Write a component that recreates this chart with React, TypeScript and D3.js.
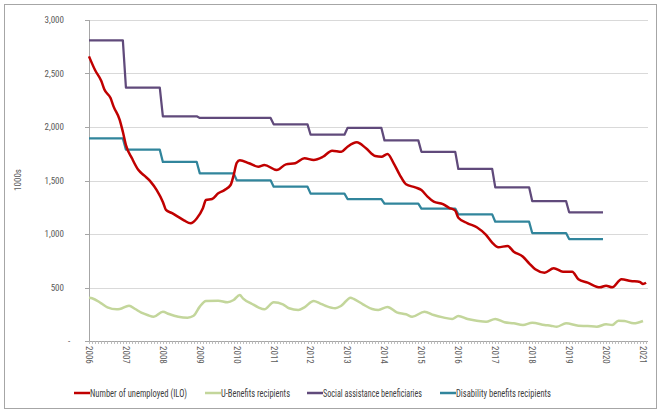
import React from "react";
import * as d3 from "d3";

// Number of unemployed (ILO), thousands – monthly readings
const unemployedDates = [
  "2006-01","2006-03","2006-05","2006-06","2006-08","2006-09","2006-11","2006-12",
  "2007-01","2007-03","2007-05","2007-07","2007-09","2007-11",
  "2008-01","2008-02","2008-04","2008-06","2008-08","2008-10","2008-12",
  "2009-02","2009-03","2009-05","2009-07","2009-09","2009-11","2009-12",
  "2010-01","2010-02","2010-05","2010-08","2010-10",
  "2011-02","2011-05","2011-08","2011-11",
  "2012-02","2012-05","2012-08","2012-11",
  "2013-01","2013-04","2013-07","2013-10","2013-12",
  "2014-02","2014-04","2014-06","2014-08","2014-11",
  "2015-01","2015-03","2015-05","2015-08","2015-10","2015-12",
  "2016-01","2016-04","2016-07","2016-10","2016-12",
  "2017-02","2017-05","2017-07","2017-10","2017-12",
  "2018-02","2018-05","2018-08","2018-11",
  "2019-02","2019-04","2019-07","2019-11",
  "2020-01","2020-03","2020-06","2020-09","2020-12",
  "2021-01","2021-02",
];
const unemployedValues = [
  2660, 2530, 2430, 2350, 2270, 2190, 2065, 1955,
  1830, 1705, 1600, 1545, 1490, 1410,
  1300, 1225, 1195, 1160, 1125, 1100, 1145,
  1240, 1318, 1327, 1380, 1410, 1458, 1550,
  1665, 1690, 1661, 1629, 1645,
  1598, 1651, 1661, 1707,
  1692, 1722, 1779, 1769,
  1816, 1857, 1801, 1729, 1722,
  1748, 1661, 1551, 1465, 1436,
  1411, 1349, 1302, 1280, 1245, 1218,
  1152, 1100, 1063, 991, 919,
  876, 888, 835, 788, 726,
  670, 639, 680, 648,
  648, 577, 545, 502,
  517, 502, 577, 561, 551,
  533, 545,
];

// U-Benefits recipients, thousands
const uBenefitDates = [
  "2006-01","2006-02","2006-05","2006-07","2006-10","2006-11",
  "2007-02","2007-04","2007-06","2007-08","2007-10",
  "2008-01","2008-03","2008-06","2008-09","2008-11",
  "2009-01","2009-03","2009-07","2009-10","2009-12",
  "2010-02","2010-03","2010-06","2010-08","2010-10",
  "2011-01","2011-04","2011-06","2011-09","2011-11",
  "2012-02","2012-04","2012-06","2012-09","2012-11",
  "2013-02","2013-03","2013-06","2013-09","2013-11",
  "2014-02","2014-05","2014-08","2014-10",
  "2015-02","2015-05","2015-08","2015-11",
  "2016-01","2016-04","2016-07","2016-10",
  "2017-01","2017-04","2017-07","2017-10",
  "2018-01","2018-05","2018-07","2018-09","2018-12",
  "2019-04","2019-07","2019-10",
  "2020-01","2020-03","2020-05","2020-07","2020-10",
  "2021-01",
];
const uBenefitValues = [
  405, 400, 352, 315, 296, 299,
  330, 299, 265, 243, 227,
  274, 252, 227, 218, 236,
  321, 374, 377, 362, 383,
  430, 399, 346, 315, 296,
  362, 343, 306, 290, 315,
  374, 352, 327, 306, 330,
  405, 393, 343, 299, 290,
  318, 268, 250, 227,
  274, 243, 221, 206,
  234, 206, 190, 180,
  206, 175, 165, 150,
  171, 150, 143, 134, 165,
  143, 140, 134,
  156, 150, 190, 187, 165,
  187,
];

// Annual figures, 2006–2019, shown month by month
const annualYears = [2006, 2007, 2008, 2009, 2010, 2011, 2012, 2013, 2014, 2015, 2016, 2017, 2018, 2019];
const socialAssistance = [2810, 2367, 2100, 2085, 2085, 2025, 1928, 1991, 1875, 1768, 1608, 1436, 1308, 1203];
const disabilityBenefits = [1894, 1788, 1673, 1567, 1502, 1442, 1377, 1327, 1283, 1237, 1184, 1115, 1009, 953];

const yearLabels = ["2006","2007","2008","2009","2010","2011","2012","2013","2014","2015","2016","2017","2018","2019","2020","2021"];
const yTicks = [0, 500, 1000, 1500, 2000, 2500, 3000];

const seriesNames = [
  "Number of unemployed (ILO)",
  "U-Benefits recipients",
  "Social assistance beneficiaries",
  "Disability benefits recipients",
];
const seriesColors = ["#c00000", "#c3d69b", "#604a7b", "#31859c"];

const FONT = "'Liberation Sans Narrow', 'Roboto Condensed', Roboto, sans-serif";

const monthIndex = (s: string) => {
  const [y, m] = s.split("-").map(Number);
  return (y - 2006) * 12 + (m - 1);
};

type Pt = { i: number; v: number };

export default function App() {
  const W = 661, H = 412;
  const x = d3.scaleLinear().domain([0, 180]).range([89, 643]);
  const y = d3.scaleLinear().domain([0, 3000]).range([341, 20]);
  const xEnd = 648;

  const stepLine = d3.line<Pt>().x((d) => x(d.i)).y((d) => y(d.v));
  const smoothLine = d3
    .line<Pt>()
    .x((d) => x(d.i))
    .y((d) => y(d.v))
    .curve(d3.curveMonotoneX);

  const red: Pt[] = unemployedDates.map((d, k) => ({ i: monthIndex(d), v: unemployedValues[k] }));
  const green: Pt[] = uBenefitDates.map((d, k) => ({ i: monthIndex(d), v: uBenefitValues[k] }));
  const expand = (vals: number[]): Pt[] =>
    annualYears.flatMap((yr, k) =>
      d3.range(12).map((m) => ({ i: (yr - 2006) * 12 + m, v: vals[k] }))
    );
  const purple = expand(socialAssistance);
  const teal = expand(disabilityBenefits);

  const monthTicks = d3.range(0, 182);
  const fmt = d3.format(",");

  // legend swatch positions and text widths
  const legendX = [74, 205, 307, 440];
  const legendTextW = [97, 69, 99, 95];
  const legendY = 393;

  return (
    <svg
      width={W}
      height={H}
      style={{ position: "absolute", left: 0, top: 0, background: "#fff" }}
    >
      <rect x={4.5} y={4.5} width={652} height={404} fill="#fff" stroke="#a6a6a6" strokeWidth={1} />

      {/* horizontal gridlines */}
      {yTicks.filter((t) => t > 0).map((t) => (
        <line key={t} x1={89} x2={xEnd} y1={Math.round(y(t)) + 0.5} y2={Math.round(y(t)) + 0.5} stroke="#d9d9d9" strokeWidth={1} />
      ))}

      {/* y axis */}
      <line x1={89.5} x2={89.5} y1={y(3000)} y2={y(0)} stroke="#a6a6a6" strokeWidth={1} />
      {yTicks.map((t) => (
        <g key={t}>
          <line x1={85} x2={89.5} y1={Math.round(y(t)) + 0.5} y2={Math.round(y(t)) + 0.5} stroke="#a6a6a6" />
          <text
            x={t === 0 ? 69 : 64}
            y={y(t)}
            dy="0.35em"
            textAnchor={t === 0 ? "middle" : "end"}
            fontFamily={FONT}
            fontSize={9}
            fill="#595959"
          >
            {t === 0 ? "-" : fmt(t)}
          </text>
        </g>
      ))}
      <text
        transform={`translate(21,180) rotate(-90)`}
        textAnchor="middle"
        fontFamily={FONT}
        fontSize={9}
        fill="#595959"
      >
        1000s
      </text>

      {/* x axis */}
      <line x1={89} x2={xEnd} y1={341.5} y2={341.5} stroke="#a6a6a6" />
      {monthTicks.map((i) => (
        <line key={i} x1={Math.round(x(i)) + 0.5} x2={Math.round(x(i)) + 0.5} y1={341.5} y2={344} stroke="#bfbfbf" />
      ))}
      {yearLabels.map((lab, k) => (
        <text
          key={lab}
          transform={`translate(${x(k * 12)},346) rotate(90)`}
          dy="0.35em"
          textAnchor="start"
          fontFamily={FONT}
          fontSize={9}
          fill="#595959"
        >
          {lab}
        </text>
      ))}

      {/* series */}
      <path d={smoothLine(green) ?? ""} fill="none" stroke={seriesColors[1]} strokeWidth={2.5} strokeLinejoin="round" />
      <path d={stepLine(teal) ?? ""} fill="none" stroke={seriesColors[3]} strokeWidth={2.25} strokeLinejoin="round" />
      <path d={stepLine(purple) ?? ""} fill="none" stroke={seriesColors[2]} strokeWidth={2.25} strokeLinejoin="round" />
      <path d={smoothLine(red) ?? ""} fill="none" stroke={seriesColors[0]} strokeWidth={2.5} strokeLinejoin="round" />

      {/* legend */}
      {seriesNames.map((name, k) => (
        <g key={name}>
          <line x1={legendX[k]} x2={legendX[k] + 16} y1={legendY} y2={legendY} stroke={seriesColors[k]} strokeWidth={2.5} />
          <text
            x={legendX[k] + 16}
            y={legendY}
            dy="0.35em"
            fontFamily={FONT}
            fontSize={10}
            fill="#404040"
            textLength={legendTextW[k]}
            lengthAdjust="spacingAndGlyphs"
          >
            {name}
          </text>
        </g>
      ))}
    </svg>
  );
}
